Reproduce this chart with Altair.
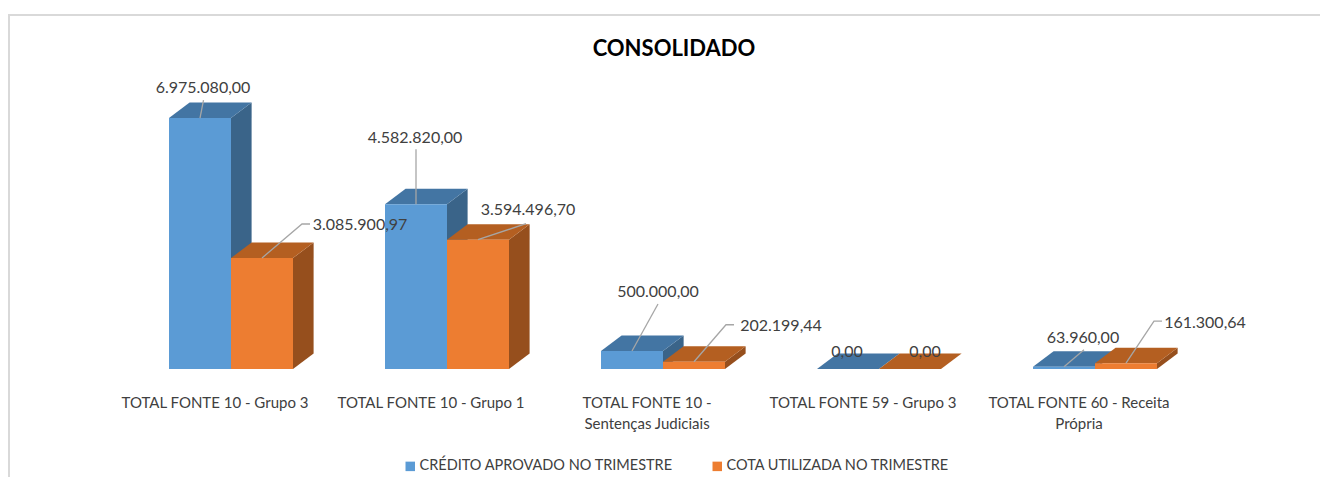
import altair as alt
import pandas as pd

categories = ["TOTAL FONTE 10 - Grupo 3", "TOTAL FONTE 10 - Grupo 1",
              "TOTAL FONTE 10 -\nSentenças Judiciais", "TOTAL FONTE 59 - Grupo 3",
              "TOTAL FONTE 60 - Receita\nPrópria"]
series_names = ["CRÉDITO APROVADO NO TRIMESTRE", "COTA UTILIZADA NO TRIMESTRE"]
credito = [6975080.00, 4582820.00, 500000.00, 0.00, 63960.00]
cota = [3085900.97, 3594496.70, 202199.44, 0.00, 161300.64]

FONT = "Lato"
TXT = "#404040"
W, H = 1312, 291
PXY = 27800.0          # value units per pixel
PXX = 1 / 216.0        # x units per pixel
X0 = 207 * PXX         # left of x-domain
xs = alt.Scale(domain=[-X0, W * PXX - X0], nice=False, zero=False)
ys = alt.Scale(domain=[0, H * PXY], nice=False, zero=False)
DX, DY = 20.6 * PXX, 15.5 * PXY
BAR = 62 * PXX
LEFT = -46 * PXX

colors = {series_names[0]: ("#5B9BD5", "#3A6489", "#4375A3"),
          series_names[1]: ("#ED7D31", "#964F1D", "#B45F21")}

# label centre and elbow offsets from the bar's top-centre, in pixels
label_pos = [[(3, -31), (98, -34)], [(-1, -67), (50, -31)], [(26, -60), (87, -37)],
             [(-1, -18), (15, -18)], [(19, -30), (79, -41)]]
elbow = [[None, (40, -34)], [None, None], [None, (32, -37)], [None, None], [None, (28, -42)]]
leader_end = [[(3.5, -18), (40, -34)], [(0, -55), (48, -16)], [(26, -47), (32, -37)],
              None, [(20, -17), (28, -42)]]

fronts, sides, tops, lines, labels = [], [], [], [], []
for s, (name, vals) in enumerate(zip(series_names, [credito, cota])):
    for i, v in enumerate(vals):
        x1 = i + LEFT + s * BAR
        x2 = x1 + BAR
        fronts.append(dict(series=name, s=s, g=i, x=x1, x2=x2, y=v, y2=0))
        sides += [dict(s=s, key=f"{s}-{i}", x=x2, top=v, bot=0),
                  dict(s=s, key=f"{s}-{i}", x=x2 + DX, top=v + DY, bot=DY)]
        tops += [dict(s=s, key=f"{s}-{i}", y=v, a=x1, b=x2),
                 dict(s=s, key=f"{s}-{i}", y=v + DY, a=x1 + DX, b=x2 + DX)]
        cx = x1 + BAR / 2
        lx, ly = label_pos[i][s]
        txt = f"{v:,.2f}".replace(",", "§").replace(".", ",").replace("§", ".")
        labels.append(dict(x=cx + lx * PXX, y=v - ly * PXY, text=txt))
        if leader_end[i] is not None:
            k = f"{s}-{i}"
            pts = [(cx, v)]
            e = leader_end[i][s]
            pts.append((cx + e[0] * PXX, v - e[1] * PXY))
            if elbow[i][s] is not None:
                pts.append((cx + (elbow[i][s][0] + 8) * PXX, v - elbow[i][s][1] * PXY))
            for o, (px, py) in enumerate(pts):
                lines.append(dict(key=k, o=o, x=px, y=py))

df_f, df_s, df_t = pd.DataFrame(fronts), pd.DataFrame(sides), pd.DataFrame(tops)
df_l, df_txt = pd.DataFrame(lines), pd.DataFrame(labels)
df_cat = pd.DataFrame({"x": list(range(len(categories))), "y": [0] * len(categories), "text": categories})

layers = []
none_x = alt.X("x:Q", scale=xs, axis=None)
none_y = alt.Y("y:Q", scale=ys, axis=None)
color_enc = alt.Color("series:N",
                      scale=alt.Scale(domain=series_names, range=["#5B9BD5", "#ED7D31"]),
                      legend=alt.Legend(orient="none", legendX=395, legendY=381, direction="horizontal",
                                        title=None, symbolType="square", symbolSize=90, symbolStrokeWidth=0,
                                        labelFont=FONT, labelFontSize=14.5, labelColor=TXT, labelLimit=0,
                                        columnPadding=37, labelOffset=2))

for s, name in enumerate(series_names):
    front_c, side_c, top_c = colors[name]
    layers.append(alt.Chart(df_s[df_s.s == s]).mark_area(orient="vertical", color=side_c, opacity=1, clip=False).encode(
        x=none_x, y=alt.Y("top:Q", scale=ys, axis=None), y2="bot:Q", detail="key:N"))
    layers.append(alt.Chart(df_t[df_t.s == s]).mark_area(orient="horizontal", color=top_c, opacity=1).encode(
        y=none_y, x=alt.X("a:Q", scale=xs, axis=None), x2="b:Q", detail="key:N"))
    layers.append(alt.Chart(df_f[df_f.s == s]).mark_rect().encode(
        x=none_x, x2="x2:Q", y=none_y, y2="y2:Q", color=color_enc))

leaders = alt.Chart(df_l).mark_line(color="#A6A6A6", strokeWidth=1.3, clip=False).encode(
    x=none_x, y=none_y, detail="key:N", order="o:O")
texts = alt.Chart(df_txt).mark_text(font=FONT, fontSize=16, color=TXT, align="center", baseline="middle", dy=1).encode(
    x=none_x, y=none_y, text="text:N")
cat_text = alt.Chart(df_cat).mark_text(font=FONT, fontSize=15, color=TXT, align="center", baseline="top",
                                       lineBreak="\n", lineHeight=21, dy=27).encode(
    x=none_x, y=none_y, text="text:N")

frame_color = "#D9D9D9"
frame_top = alt.Chart(pd.DataFrame({"k": [0]})).mark_rule(color=frame_color, strokeWidth=2).encode(
    x=alt.value(1), x2=alt.value(1320), y=alt.value(-63))
frame_left = alt.Chart(pd.DataFrame({"k": [0]})).mark_rule(color=frame_color, strokeWidth=2).encode(
    x=alt.value(1), y=alt.value(-64), y2=alt.value(407))

chart = alt.layer(frame_top, frame_left, *layers, leaders, texts, cat_text).resolve_scale(color="shared").properties(
    width=W, height=H,
    autosize=alt.AutoSizeParams(type="none"),
    padding={"left": 0, "top": 70, "right": 0, "bottom": 108},
    background="white",
    title=alt.TitleParams("CONSOLIDADO", font=FONT, fontSize=22, fontWeight="bold", color="#000000",
                          anchor="middle", dx=10, offset=-48),
).configure_view(stroke=None)

chart.save("out.html", embed_options={"renderer": "svg", "actions": False})
